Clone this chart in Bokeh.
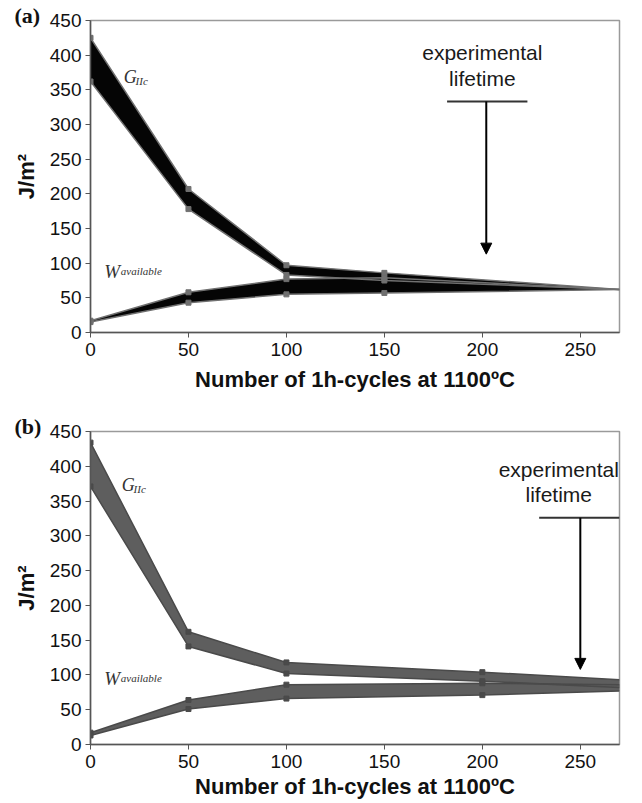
from bokeh.plotting import figure
from bokeh.layouts import column
from bokeh.models import Label, Arrow, NormalHead, FixedTicker
from bokeh.embed import file_html
from bokeh.resources import INLINE

# ---- data (a) ----
x_a = [0, 50, 100, 150, 270]
g_hi_a = [425, 207, 97, 86, 62]
g_lo_a = [362, 178, 83, 75, 62]
w_hi_a = [17, 58, 77, 79, 62]
w_lo_a = [15, 43, 55, 57, 62]
n_mark_a = 4

# ---- data (b) ----
x_b = [0, 50, 100, 200, 270]
g_hi_b = [434, 162, 118, 104, 93]
g_lo_b = [371, 141, 102, 91, 82]
w_hi_b = [17, 64, 86, 88, 86]
w_lo_b = [13, 51, 66, 71, 77]
n_mark_b = 4

x_ticks = [0, 50, 100, 150, 200, 250]
y_ticks = [0, 50, 100, 150, 200, 250, 300, 350, 400, 450]
x_title = "Number of 1h-cycles at 1100ºC"
y_title = "J/m²"

# annotation positions (data units)
life_a = dict(x=202, top=333, tip=113, bar=(182, 223), t1=404, t2=366, tx=200)
life_b = dict(x=250, top=326, tip=108, bar=(229, 270), t1=395, t2=359, tx=239)


def make(tag, xs, ghi, glo, whi, wlo, nm, fill, edge, life, top_b, bot_b, h,
         gpos, wpos, lab_std, title_std):
    p = figure(width=636, height=h, x_range=(0, 270), y_range=(0, 450),
               output_backend="svg", toolbar_location=None,
               min_border_left=90, min_border_right=17,
               min_border_top=top_b, min_border_bottom=bot_b)
    p.xgrid.visible = False
    p.ygrid.visible = False
    p.outline_line_color = "#9a9a9a"
    p.outline_line_width = 1.5
    p.background_fill_color = "white"
    p.border_fill_color = "white"

    p.title.text = tag
    p.title.align = "left"
    p.title.offset = -76
    p.title.standoff = title_std
    p.title.text_font = "Liberation Serif"
    p.title.text_font_style = "bold"
    p.title.text_font_size = "22px"
    p.title.text_color = "#111111"

    p.xaxis.ticker = FixedTicker(ticks=x_ticks)
    p.yaxis.ticker = FixedTicker(ticks=y_ticks)
    for ax in (p.xaxis[0], p.yaxis[0]):
        ax.axis_line_color = "#555555"
        ax.axis_line_width = 1.5
        ax.major_tick_line_color = "#555555"
        ax.major_tick_out = 5
        ax.major_tick_in = 0
        ax.minor_tick_line_color = None
        ax.major_label_text_font = "Liberation Sans"
        ax.major_label_text_font_size = "19px"
        ax.major_label_text_color = "#111111"
        ax.axis_label_text_font = "Liberation Sans"
        ax.axis_label_text_font_style = "bold"
        ax.axis_label_text_color = "#111111"
    p.xaxis.axis_label = x_title
    p.xaxis.axis_label_text_font_size = "22px"
    p.xaxis.major_label_standoff = 5
    p.xaxis.axis_label_standoff = lab_std
    p.yaxis.axis_label = y_title
    p.yaxis.axis_label_text_font_size = "22px"
    p.yaxis.major_label_standoff = 4
    p.yaxis.axis_label_standoff = 8

    # bands
    p.varea(x=xs, y1=wlo, y2=whi, fill_color=fill)
    p.varea(x=xs, y1=glo, y2=ghi, fill_color=fill)
    for ys in (whi, wlo, ghi, glo):
        p.line(xs, ys, line_color=edge, line_width=1.5)
        p.scatter(xs[:nm], ys[:nm], marker="square", size=5,
                  color=edge)

    # experimental lifetime annotation
    bx0, bx1 = life["bar"]
    p.segment(x0=[bx0], y0=[life["top"]], x1=[bx1], y1=[life["top"]],
              line_color="#333333", line_width=2)
    p.add_layout(Arrow(x_start=life["x"], y_start=life["top"], x_end=life["x"],
                       y_end=life["tip"], line_color="black", line_width=2,
                       end=NormalHead(size=11, fill_color="black",
                                      line_color="black")))
    for txt, yy in (("experimental", life["t1"]), ("lifetime", life["t2"])):
        p.add_layout(Label(x=life["tx"], y=yy, text=txt, text_align="center",
                           text_baseline="middle",
                           text_font="Liberation Sans",
                           text_font_size="21px", text_color="#1a1a1a"))

    # curve labels
    gx, gy, sx, sy = gpos
    p.add_layout(Label(x=gx, y=gy, text="G", text_font="Liberation Serif",
                       text_font_style="italic", text_font_size="18px",
                       text_baseline="alphabetic", text_color="#333333"))
    p.add_layout(Label(x=sx, y=sy, text="IIc", text_font="Liberation Serif",
                       text_font_style="italic", text_font_size="11px",
                       text_baseline="alphabetic", text_color="#333333"))
    wx, wy, vx, vy = wpos
    p.add_layout(Label(x=wx, y=wy, text="W", text_font="Liberation Serif",
                       text_font_style="italic", text_font_size="19px",
                       text_baseline="alphabetic", text_color="#333333"))
    p.add_layout(Label(x=vx, y=vy, text="available", text_font="Liberation Serif",
                       text_font_style="italic", text_font_size="11px",
                       text_baseline="alphabetic", text_color="#333333"))
    return p


pa = make("(a)", x_a, g_hi_a, g_lo_a, w_hi_a, w_lo_a, n_mark_a,
          "#050505", "#707070", life_a, 20, 68, 400,
          (17, 368, 23, 363), (7, 88, 15.5, 88), 8, -14)
pb = make("(b)", x_b, g_hi_b, g_lo_b, w_hi_b, w_lo_b, n_mark_b,
          "#5e5e5e", "#4a4a4a", life_b, 31, 58, 402,
          (16, 373, 22, 367), (7, 95, 15.5, 95), 3, -14)

layout = column(pa, pb, spacing=0)
open("out.html", "w").write(file_html(layout, INLINE))
